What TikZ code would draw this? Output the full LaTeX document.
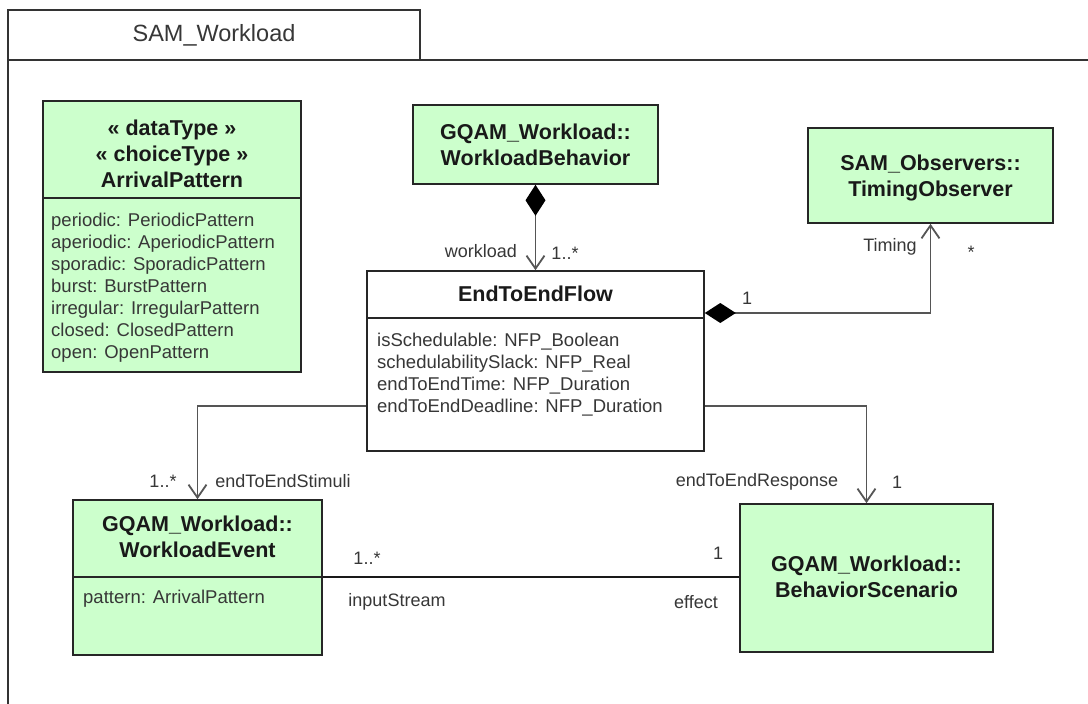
\documentclass[tikz,border=0pt]{standalone}
\usepackage{fontspec}
\setmainfont{Liberation Sans}
\usetikzlibrary{arrows.meta,calc}
\definecolor{clsgreen}{RGB}{204,255,204}
\definecolor{txtgray}{RGB}{55,55,55}
\definecolor{hdrblack}{RGB}{25,25,25}
\definecolor{conngray}{RGB}{85,85,85}
\begin{document}
\begin{tikzpicture}[x=1pt,y=-1pt,
  frameline/.style={draw=black!80,line width=1.6pt},
  cls/.style={draw=black!85,line width=1.6pt,fill=clsgreen,inner sep=0pt},
  plaincls/.style={draw=black!85,line width=1.6pt,fill=white,inner sep=0pt},
  divider/.style={draw=black!85,line width=1.6pt},
  hdr/.style={align=center,inner sep=0pt,text=hdrblack,font=\fontsize{21.5}{26}\selectfont\bfseries},
  attr/.style={align=left,inner sep=0pt,text=txtgray,font=\fontsize{18.5}{22}\selectfont},
  lbl/.style={inner sep=0pt,text=txtgray,font=\fontsize{18}{22}\selectfont},
  conn/.style={draw=conngray,line width=1.8pt},
  assoc/.style={draw=black!90,line width=1.4pt},
  openend/.style={-{Straight Barb[length=13pt,width=18pt]}},
  compopen/.style={{Diamond[length=31pt,width=20pt,color=black]}-{Straight Barb[length=13pt,width=18pt]}}
]
\useasboundingbox (0,0) rectangle (1088,704);
\fill[white] (0,0) rectangle (1088,704);

% package frame
\draw[frameline] (8,706) -- (8,10) -- (420,10) -- (420,60);
\draw[frameline] (8,60) -- (1090,60);
\node[inner sep=0pt,text=txtgray,font=\fontsize{23.5}{28}\selectfont] (title) at (214,35) {SAM\_Workload};

% ArrivalPattern
\node[cls,minimum width=258pt,minimum height=271pt] (ap) at (172,236.5) {};
\draw[divider] (ap.west |- 0,198) -- (ap.east |- 0,198);
\node[hdr] (apH) at (172,154) {« dataType »\\« choiceType »\\ArrivalPattern};
\node[attr,anchor=west] (apA) at (51,288) {periodic: PeriodicPattern\\aperiodic: AperiodicPattern\\sporadic: SporadicPattern\\burst: BurstPattern\\irregular: IrregularPattern\\closed: ClosedPattern\\open: OpenPattern};

% WorkloadBehavior
\node[cls,minimum width=245pt,minimum height=79pt] (wb) at (535.5,144.5) {};
\node[hdr] (wbH) at (535.5,144.5) {GQAM\_Workload::\\WorkloadBehavior};

% TimingObserver
\node[cls,minimum width=245pt,minimum height=95pt] (to) at (930.5,175.5) {};
\node[hdr] (toH) at (930.5,178) {SAM\_Observers::\\TimingObserver};

% EndToEndFlow
\node[plaincls,minimum width=337pt,minimum height=180pt] (ef) at (535.5,361) {};
\draw[divider] (ef.west |- 0,318) -- (ef.east |- 0,318);
\node[hdr] (efH) at (535.5,294) {EndToEndFlow};
\node[attr,anchor=west] (efA) at (377,375) {isSchedulable: NFP\_Boolean\\schedulabilitySlack: NFP\_Real\\endToEndTime: NFP\_Duration\\endToEndDeadline: NFP\_Duration};

% WorkloadEvent
\node[cls,minimum width=249pt,minimum height=155pt] (we) at (197.5,577.5) {};
\draw[divider] (we.west |- 0,577) -- (we.east |- 0,577);
\node[hdr] (weH) at (197.5,537) {GQAM\_Workload::\\WorkloadEvent};
\node[attr,anchor=west] (weA) at (83,599) {pattern: ArrivalPattern};

% BehaviorScenario
\node[cls,minimum width=253pt,minimum height=148pt] (bs) at (866.5,578) {};
\node[hdr] (bsH) at (866.5,577) {GQAM\_Workload::\\BehaviorScenario};

% connectors
\draw[conn,compopen] (wb.south) -- (ef.north);
\draw[conn,compopen] (ef.east |- 0,313) -| (to.south);
\draw[conn,openend] (ef.west |- 0,406) -| (we.north);
\draw[conn,openend] (ef.east |- 0,406) -| (bs.north);
\draw[assoc] (we.east |- 0,577) -- (bs.west |- 0,577);

% labels
\node[lbl] (lWorkload) at (481,251) {workload};
\node[lbl] (lWbMult) at (565,253) {1..*};
\node[lbl] (lTiming) at (890,247) {Timing};
\node[lbl] (lTimStar) at (971,252) {*};
\node[lbl] (lTimOne) at (747,298) {1};
\node[lbl] (lStimMult) at (163,481) {1..*};
\node[lbl] (lStim) at (283,481) {endToEndStimuli};
\node[lbl] (lResp) at (757,482) {endToEndResponse};
\node[lbl] (lRespOne) at (897,482) {1};
\node[lbl] (lInMult) at (367,558) {1..*};
\node[lbl] (lInput) at (397,602) {inputStream};
\node[lbl] (lEffOne) at (718,553) {1};
\node[lbl] (lEffect) at (696,602) {effect};
\end{tikzpicture}
\end{document}
